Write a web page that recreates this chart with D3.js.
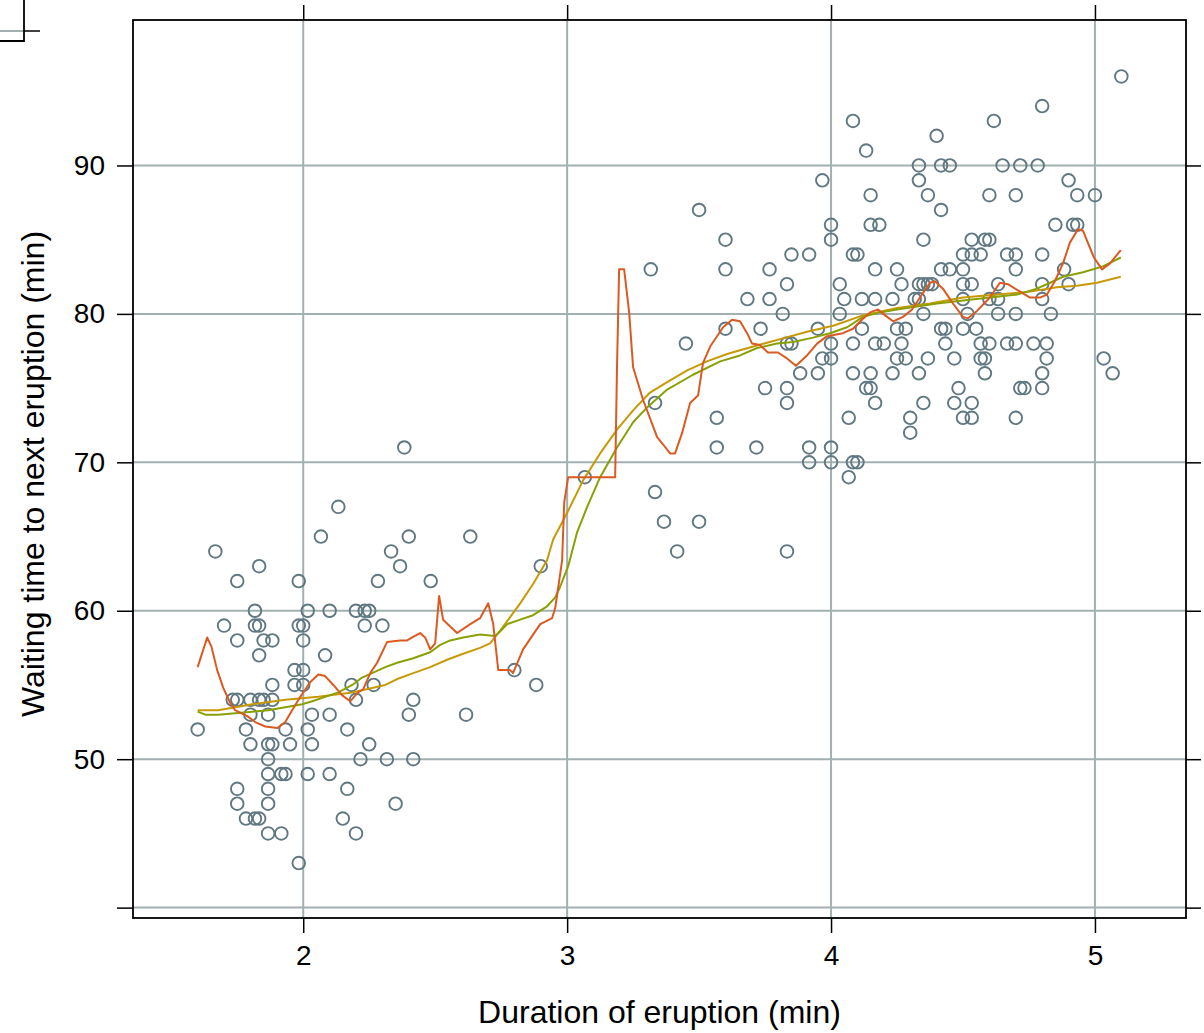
<!DOCTYPE html>
<html>
<head>
<meta charset="utf-8">
<script src="https://cdn.jsdelivr.net/npm/d3@7/dist/d3.min.js"></script>
<style>
  body { margin: 0; background: #fff; }
  svg text { font-family: "Liberation Sans", Arial, Helvetica, sans-serif; }
</style>
</head>
<body>
<div id="chart"></div>
<script>
// Old Faithful: eruption duration vs waiting time, with three smoothers

const eruptions = [
  1.6, 1.667, 1.7, 1.733, 1.75, 1.75, 1.75, 1.75, 1.75, 1.783, 1.783, 1.8, 1.8, 1.8,
  1.817, 1.817, 1.817, 1.833, 1.833, 1.833, 1.833, 1.833, 1.85, 1.85, 1.867, 1.867, 1.867,
  1.867, 1.867, 1.867, 1.867, 1.883, 1.883, 1.883, 1.883, 1.917, 1.917, 1.933, 1.933, 1.95,
  1.967, 1.967, 1.983, 1.983, 1.983, 2.0, 2.0, 2.0, 2.0, 2.017, 2.017, 2.017, 2.033, 2.033,
  2.067, 2.083, 2.1, 2.1, 2.1, 2.133, 2.15, 2.167, 2.167, 2.183, 2.2, 2.2, 2.2, 2.217, 2.233,
  2.233, 2.25, 2.25, 2.267, 2.283, 2.3, 2.317, 2.333, 2.35, 2.367, 2.383, 2.4, 2.4, 2.417,
  2.417, 2.483, 2.617, 2.633, 2.8, 2.883, 2.9,
  3.067, 3.317, 3.333, 3.333, 3.367, 3.417, 3.45, 3.5, 3.5, 3.567, 3.567, 3.6, 3.6, 3.6,
  3.683, 3.717, 3.733, 3.75, 3.767, 3.767, 3.817, 3.833, 3.833, 3.833, 3.833, 3.833, 3.85,
  3.85, 3.883, 3.917, 3.917, 3.917, 3.95, 3.95, 3.967, 3.967, 4.0, 4.0, 4.0, 4.0, 4.0, 4.0,
  4.033, 4.033, 4.05, 4.067, 4.067, 4.083, 4.083, 4.083, 4.083, 4.083, 4.1, 4.1,
  4.133, 4.4, 4.333, 4.417, 4.45, 4.333, 4.367, 4.15, 4.417, 4.15, 4.183, 4.35, 4.533, 4.5,
  4.533, 4.567, 4.167, 4.25, 4.417, 4.45, 4.5, 4.267, 4.333, 4.35, 4.367, 4.383, 4.5, 4.533,
  4.117, 4.167, 4.233, 4.317, 4.333, 4.5, 4.35, 4.517, 4.117, 4.25, 4.283, 4.417, 4.433, 4.5,
  4.55, 4.167, 4.2, 4.267, 4.433, 4.25, 4.283, 4.367, 4.467, 4.15, 4.233, 4.333, 4.133, 4.15,
  4.483, 4.167, 4.35, 4.467, 4.533, 4.3, 4.5, 4.533, 4.3,
  5.1, 4.8, 4.617, 4.65, 4.717, 4.783, 4.9, 4.6, 4.7, 4.933, 5.0, 4.85, 4.917, 4.933, 4.583,
  4.6, 4.667, 4.7, 4.8, 4.7, 4.883, 4.633, 4.8, 4.9, 4.6, 4.633, 4.8, 4.633, 4.7, 4.833,
  4.567, 4.6, 4.667, 4.7, 4.767, 4.817, 4.567, 4.583, 4.817, 5.033, 4.583, 4.8, 5.067, 4.717,
  4.733, 4.8, 4.7
];

const waiting = [
  52, 64, 59, 54, 54, 62, 58, 48, 47, 52, 46, 54, 53, 51,
  60, 59, 46, 63, 59, 57, 54, 46, 58, 54, 53, 51, 50,
  49, 48, 47, 45, 58, 55, 54, 51, 49, 45, 52, 49, 51,
  56, 55, 62, 59, 43, 59, 58, 56, 55, 60, 52, 49, 53, 51,
  65, 57, 60, 53, 49, 67, 46, 52, 48, 55, 60, 54, 45, 50, 60,
  59, 60, 51, 55, 62, 59, 50, 64, 47, 63, 71, 65, 53, 54,
  50, 62, 53, 65, 56, 55, 63,
  69, 83, 74, 68, 66, 64, 78, 87, 66, 73, 71, 85, 83, 79,
  81, 71, 79, 75, 83, 81, 80, 82, 78, 75, 74, 64, 84,
  78, 76, 84, 71, 70, 79, 76, 89, 77, 86, 85, 78, 77, 71, 70,
  82, 80, 81, 73, 69, 93, 84, 78, 76, 70, 84, 70,
  91, 92, 90, 90, 90, 89, 88, 88, 87, 86, 86, 85, 85, 84,
  84, 84, 83, 83, 83, 83, 83, 82, 82, 82, 82, 82, 82, 82,
  81, 81, 81, 81, 81, 81, 80, 80, 79, 79, 79, 79, 79, 79,
  79, 78, 78, 78, 78, 77, 77, 77, 77, 76, 76, 76, 75, 75,
  75, 74, 74, 74, 74, 73, 73, 73, 72,
  96, 94, 93, 90, 90, 90, 89, 88, 88, 88, 88, 86, 86, 86, 85,
  85, 84, 84, 84, 83, 83, 82, 82, 82, 81, 81, 81, 80, 80, 80,
  78, 78, 78, 78, 78, 78, 77, 77, 77, 77, 76, 76, 76, 75,
  75, 75, 73
];

// narrow-bandwidth smoother (orange-red)
const redX = [1.60, 1.636, 1.652, 1.674, 1.697, 1.723, 1.742, 1.788, 1.818, 1.856, 1.902, 1.932,
  1.958, 1.989, 2.027, 2.057, 2.083, 2.114, 2.148, 2.178, 2.208, 2.227, 2.254, 2.280, 2.318,
  2.367, 2.394, 2.413, 2.443, 2.462, 2.481, 2.5, 2.515, 2.530, 2.583, 2.633, 2.670, 2.701,
  2.720, 2.739, 2.784, 2.795, 2.833, 2.898, 2.943, 2.955, 2.981, 2.989, 3.004, 3.182, 3.189,
  3.197, 3.216, 3.235, 3.250, 3.288, 3.341, 3.364, 3.390, 3.409, 3.436, 3.466, 3.496, 3.515,
  3.542, 3.591, 3.625, 3.655, 3.682, 3.701, 3.731, 3.761, 3.799, 3.833, 3.867, 3.909, 3.947,
  3.985, 4.045, 4.083, 4.117, 4.148, 4.178, 4.205, 4.235, 4.273, 4.307, 4.337, 4.375, 4.394,
  4.424, 4.462, 4.5, 4.519, 4.553, 4.602, 4.640, 4.670, 4.716, 4.754, 4.792, 4.818, 4.848,
  4.879, 4.905, 4.936, 4.955, 4.973, 4.996, 5.027, 5.057, 5.098];
const redY = [56.2, 58.2, 57.6, 56.0, 54.8, 53.8, 53.3, 52.9, 52.5, 52.2, 52.1, 52.5,
  53.3, 54.2, 55.2, 55.7, 55.6, 55.0, 54.3, 53.9, 54.5, 54.7, 55.8, 56.5, 57.9,
  58.0, 58.0, 58.2, 58.5, 58.2, 57.4, 57.8, 61.0, 59.4, 58.5, 59.1, 59.5, 60.5,
  59.1, 56.0, 56.0, 55.8, 57.4, 59.1, 59.5, 60.2, 63.4, 67.3, 69.0, 69.0, 76.4,
  83.0, 83.0, 80.1, 76.4, 74.2, 71.7, 71.2, 70.6, 70.6, 72.0, 74.0, 74.5, 76.7,
  77.8, 79.1, 79.6, 79.5, 78.7, 78.0, 77.9, 77.4, 77.4, 77.0, 76.5, 77.2, 78.0,
  78.5, 78.7, 79.0, 79.6, 80.1, 80.3, 79.9, 79.5, 79.8, 80.3, 81.1, 82.1, 82.2,
  81.7, 80.7, 79.8, 79.7, 80.2, 81.1, 82.1, 82.0, 81.5, 81.1, 81.1, 81.3, 82.2,
  83.4, 84.8, 85.7, 85.6, 84.8, 83.8, 83.0, 83.4, 84.3];

// medium smoother (olive green)
const greenX = [1.60, 1.629, 1.678, 1.742, 1.807, 1.867, 1.932, 1.996, 2.034, 2.083, 2.133,
  2.186, 2.223, 2.261, 2.311, 2.356, 2.417, 2.481, 2.519, 2.557, 2.606, 2.670, 2.727, 2.746,
  2.773, 2.822, 2.871, 2.924, 2.955, 2.973, 3.004, 3.038, 3.076, 3.125, 3.189, 3.250, 3.303,
  3.379, 3.477, 3.580, 3.655, 3.720, 3.795, 3.856, 3.932, 3.996, 4.061, 4.121, 4.186, 4.250,
  4.326, 4.402, 4.5, 4.602, 4.705, 4.780, 4.830, 4.879, 4.955, 5.030, 5.098];
const greenY = [53.2, 53.0, 53.0, 53.1, 53.2, 53.3, 53.5, 53.7, 53.9, 54.2, 54.5,
  55.0, 55.5, 55.8, 56.2, 56.5, 56.8, 57.2, 57.7, 58.0, 58.2, 58.4, 58.3, 58.6,
  59.1, 59.4, 59.7, 60.3, 60.9, 61.6, 63.0, 65.3, 67.0, 69.0, 71.0, 72.7, 73.7,
  74.9, 75.9, 76.8, 77.2, 77.7, 78.0, 78.1, 78.4, 78.7, 79.1, 79.8, 80.1, 80.3,
  80.5, 80.7, 80.9, 81.1, 81.3, 81.7, 82.1, 82.5, 82.8, 83.2, 83.8];

// wide smoother (gold)
const goldX = [1.60, 1.678, 1.807, 1.932, 2.057, 2.186, 2.261, 2.311, 2.356, 2.417, 2.481,
  2.545, 2.606, 2.670, 2.708, 2.735, 2.773, 2.822, 2.871, 2.924, 2.947, 3.0, 3.061, 3.125,
  3.189, 3.250, 3.314, 3.379, 3.455, 3.530, 3.606, 3.705, 3.807, 3.909, 4.008, 4.121, 4.250,
  4.375, 4.5, 4.629, 4.754, 4.856, 4.932, 5.008, 5.098];
const goldY = [53.3, 53.3, 53.7, 54.0, 54.2, 54.5, 54.8, 55.0, 55.4, 55.8, 56.2,
  56.7, 57.1, 57.5, 57.8, 58.4, 59.3, 60.5, 61.8, 63.4, 64.8, 66.6, 68.8, 70.6,
  72.2, 73.5, 74.7, 75.4, 76.2, 76.8, 77.3, 77.8, 78.3, 78.8, 79.2, 79.9, 80.4,
  80.7, 81.1, 81.3, 81.5, 81.8, 81.9, 82.1, 82.5];

const xTicks = [2, 3, 4, 5];
const yTicks = [40, 50, 60, 70, 80, 90];

const W = 1204, H = 1033;
const panel = { left: 133, right: 1186, top: 20, bottom: 918 };

const svg = d3.select("#chart").append("svg")
  .attr("width", W)
  .attr("height", H);

svg.append("rect").attr("width", W).attr("height", H).attr("fill", "#fff");

const x = d3.scaleLinear().domain([1.355, 5.345]).range([panel.left, panel.right]);
const y = d3.scaleLinear().domain([39.3, 99.8]).range([panel.bottom, panel.top]);

const gridColor = "#a2b0b2";
const pointColor = "#607882";

// leftover corner of a neighbouring panel, top-left
const corner = svg.append("g");
corner.append("line").attr("x1", 0).attr("x2", 24).attr("y1", 31).attr("y2", 31)
  .attr("stroke", gridColor).attr("stroke-width", 2);
corner.append("line").attr("x1", 24).attr("x2", 40).attr("y1", 31).attr("y2", 31)
  .attr("stroke", "#000").attr("stroke-width", 1.5);
corner.append("path").attr("d", "M0,41H24V0")
  .attr("fill", "none").attr("stroke", "#000").attr("stroke-width", 1.8);

// grid lines
const grid = svg.append("g");
grid.selectAll(".vg").data(xTicks).join("line")
  .attr("x1", d => x(d)).attr("x2", d => x(d))
  .attr("y1", panel.top).attr("y2", panel.bottom)
  .attr("stroke", gridColor).attr("stroke-width", 2);
grid.selectAll(".hg").data(yTicks).join("line")
  .attr("x1", panel.left).attr("x2", panel.right)
  .attr("y1", d => y(d)).attr("y2", d => y(d))
  .attr("stroke", gridColor).attr("stroke-width", 2);

// points
const pts = eruptions.map((e, i) => ({ e: e, w: waiting[i] }));
svg.append("g").selectAll("circle").data(pts).join("circle")
  .attr("cx", d => x(d.e))
  .attr("cy", d => y(d.w))
  .attr("r", 6.3)
  .attr("fill", "none")
  .attr("stroke", pointColor)
  .attr("stroke-width", 1.9);

// smoothers
const line = d3.line().x(d => x(d[0])).y(d => y(d[1]));
const smoothers = [
  { xs: goldX, ys: goldY, color: "#c79a05" },
  { xs: greenX, ys: greenY, color: "#8aa004" },
  { xs: redX, ys: redY, color: "#da5a22" }
];
smoothers.forEach(s => {
  svg.append("path")
    .datum(s.xs.map((v, i) => [v, s.ys[i]]))
    .attr("d", line)
    .attr("fill", "none")
    .attr("stroke", s.color)
    .attr("stroke-width", 2)
    .attr("stroke-linejoin", "round");
});

// axes
function styleAxis(g) {
  g.select(".domain").remove();
  g.selectAll(".tick line").attr("stroke", "#000").attr("stroke-width", 1.5);
  g.selectAll(".tick text").attr("fill", "#000").attr("font-size", "28px")
    .attr("font-family", "'Liberation Sans', Arial, sans-serif");
}

svg.append("g")
  .attr("transform", `translate(0,${panel.bottom})`)
  .call(d3.axisBottom(x).tickValues(xTicks).tickSize(15).tickPadding(12).tickFormat(d3.format("d")))
  .call(styleAxis);

svg.append("g")
  .attr("transform", `translate(0,${panel.top})`)
  .call(d3.axisTop(x).tickValues(xTicks).tickSize(15).tickFormat(""))
  .call(styleAxis);

svg.append("g")
  .attr("transform", `translate(${panel.left},0)`)
  .call(d3.axisLeft(y).tickValues(yTicks).tickSize(16).tickPadding(12)
    .tickFormat(d => d === 40 ? "" : d))
  .call(styleAxis);

svg.append("g")
  .attr("transform", `translate(${panel.right},0)`)
  .call(d3.axisRight(y).tickValues(yTicks).tickSize(15).tickFormat(""))
  .call(styleAxis);

// panel border
svg.append("rect")
  .attr("x", panel.left).attr("y", panel.top)
  .attr("width", panel.right - panel.left)
  .attr("height", panel.bottom - panel.top)
  .attr("fill", "none")
  .attr("stroke", "#000")
  .attr("stroke-width", 1.8);

// axis titles
svg.append("text")
  .attr("x", (panel.left + panel.right) / 2)
  .attr("y", 1023)
  .attr("text-anchor", "middle")
  .attr("font-size", "32px")
  .attr("fill", "#000")
  .text("Duration of eruption (min)");

svg.append("text")
  .attr("transform", `translate(44,${(panel.top + panel.bottom) / 2 + 5}) rotate(-90)`)
  .attr("text-anchor", "middle")
  .attr("font-size", "32px")
  .attr("fill", "#000")
  .text("Waiting time to next eruption (min)");
</script>
</body>
</html>
